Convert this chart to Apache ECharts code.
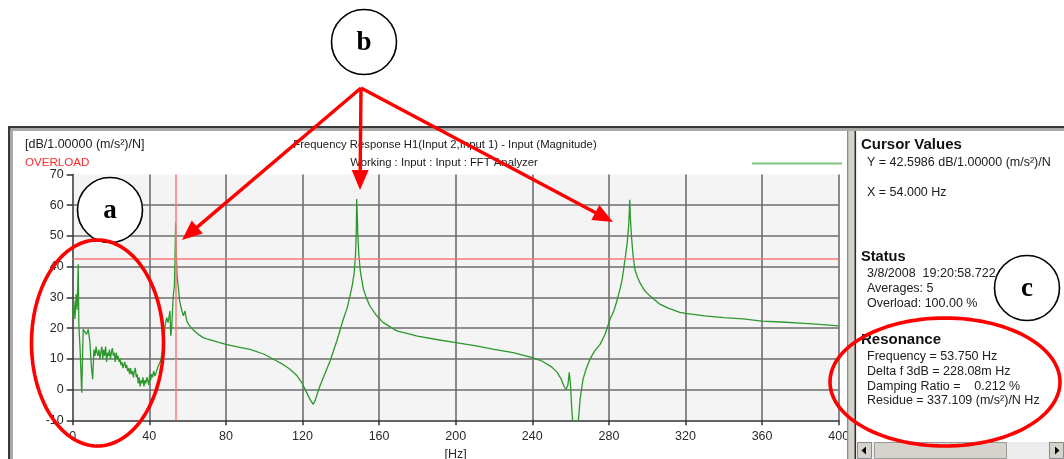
<!DOCTYPE html>
<html>
<head>
<meta charset="utf-8">
<script src="https://cdn.jsdelivr.net/npm/echarts@6/dist/echarts.min.js"></script>
<style>
html,body{margin:0;padding:0;background:#fff;}
#c{width:1064px;height:459px;}
</style>
</head>
<body>
<div id="c"></div>
<script>
// ---- data: [frequency Hz, magnitude dB] ----
const lowBand = [
  [0,24],[0.6,29],[1.2,23],[1.8,31],[2.3,26],[2.9,40.8],[3.2,21],[3.8,14],[4.7,-1],[5.5,19.6],[6.4,20.2],[7.2,18],
  [8.1,19.6],[9.0,15.4],[9.7,8],[10.4,3.4],[11.1,13],[11.7,11],[12.2,14],[12.7,12],[13.2,11],[13.7,13],[14.2,10],
  [14.7,12],[15.2,14],[15.7,10],[16.2,13],[16.7,11],[17.2,14],[17.7,9],[18.2,12],[18.7,11],[19.2,13],[19.7,10],
  [20.2,12],[20.7,13.5],[21.2,11],[21.7,12],[22.2,9],[22.7,12],[23.2,10],[23.7,11],[24.2,9],[24.7,10],[25.2,8],
  [25.7,9],[26.2,7],[26.7,8],[27.2,9],[27.7,7],[28.2,8],[28.7,6],[29.2,7],[29.7,5],[30.2,7],[30.7,5],[31.2,6],
  [31.7,4],[32.2,6],[32.7,7],[33.2,4],[33.7,5],[34.2,2],[34.7,4],[35.2,1],[35.7,3],[36.2,2],[36.7,4],[37.2,1],
  [37.7,3],[38.2,2],[38.7,4],[39.2,3],[39.7,1.5],[40.2,5],[40.7,3],[41.2,5],[41.7,4],[42.3,6],[43.0,4.4],
  [43.8,6],[44.6,7.5]
];
const mode1 = [
  [45.6,8.8],[46.5,11],[47.3,14.2],[48.2,20.7],[49.1,23.4],[49.8,21.8],[50.8,25.6],[51.2,17.5],[51.7,20.2],
  [52.5,30.5],[53.1,33.7],[53.5,45],[53.75,54.4],[54.0,46],[54.5,37],[55.2,33],[55.8,29],[56.4,27.2],[57.1,25.5],
  [57.8,24],[58.6,25.6],[59.5,22.5],[60.4,21.3],[62,20],[64,18.8],[66,17.8],[68.2,16.9],[70,16.5],[75,15.6],
  [80,14.7],[86,13.9],[92.6,13.1],[100,11.5],[106.5,9.3],[110,8.1],[113.5,6.6],[117,4.6],[119.6,2.3],[122.2,-1],
  [124,-3.3],[125.6,-4.8]
];
const mode2 = [
  [126.6,-3.6],[127.4,-2],[129,1],[130.9,3.9],[134.4,9.3],[137.9,15.8],[141.3,22.9],[143.3,26.5],[144.8,30.5],
  [146,34],[147,38],[147.7,44],[148.1,52],[148.3,62],[148.6,57],[148.9,50],[149.4,44],[150.2,38.5],[151.8,32.7],
  [153.5,29.6],[155.2,27.2],[158.5,24.2],[162.2,21.8],[169.2,19.1],[175,18.2],[180,17.4],[190,16.3],[200,15.3],
  [210,14.3],[220,13.1],[230,12],[240,10.4],[245,9.3],[250,7.4],[253,5.6],[255,3.5],[256.6,1],[257.6,0]
];
const mode3 = [
  [258.6,1.5],[259.3,5.6],[259.9,2],[260.6,-6],[261.4,-13],[262.5,-17],[263.6,-13],[264.2,-9],[265,-3],
  [266.5,3.4],[268,6.5],[270.1,9.9],[272.5,12.5],[275.4,14.7],[278,18],[280.6,22.9],[282.5,25.5],[284,28.5],
  [285.8,32.7],[287,36],[288.4,42.4],[289.6,48],[290.4,54],[290.9,61.8],[291.2,56],[291.9,49],[292.7,43],
  [293.6,39],[295,36.5],[296.2,34.8],[298.5,32.3],[301.4,30.5],[306.6,27.8],[311,26.5],[317,25.1],[320,24.8],
  [330,24],[340,23.4],[350,23],[360,22.3],[370,22],[380,21.6],[390,21.2],[400,20.7]
];
const xTickLabels = ['0','40','80','120','160','200','240','280','320','360','400'];
const cursorX = 54;
const cursorY = 42.5986;
const headerLeft = ['[dB/1.00000 (m/s\u00b2)/N]', 'OVERLOAD'];
const titleLines = ['Frequency Response H1(Input 2,Input 1) - Input (Magnitude)', 'Working : Input : Input : FFT Analyzer'];
const panelHeads = ['Cursor Values', 'Status', 'Resonance'];
const cursorLines = ['Y = 42.5986 dB/1.00000 (m/s\u00b2)/N', 'X = 54.000 Hz'];
const statusLines = ['3/8/2008  19:20:58.722', 'Averages: 5', 'Overload: 100.00 %'];
const resonanceLines = ['Frequency = 53.750 Hz', 'Delta f 3dB = 228.08m Hz', 'Damping Ratio =    0.212 %', 'Residue = 337.109 (m/s\u00b2)/N Hz'];

const seriesData = lowBand.concat(mode1, mode2, mode3);

const FONT = '"Liberation Sans", Arial, sans-serif';
const txt = (s, x, y, opt) => Object.assign({
  type: 'text', z: 50, silent: true,
  style: Object.assign({
    text: s, x: x, y: y, font: '12.5px ' + FONT, fill: '#202020',
    textAlign: 'left', textVerticalAlign: 'middle', align: 'left', verticalAlign: 'middle'
  }, opt || {})
});

function arrow(x0, y0, x1, y1) {
  const dx = x1 - x0, dy = y1 - y0, len = Math.sqrt(dx*dx + dy*dy);
  const ux = dx/len, uy = dy/len, L = 20, W = 8.5;
  const bx = x1 - ux*L, by = y1 - uy*L;
  return [
    {type:'line', z:80, silent:true, shape:{x1:x0, y1:y0, x2:bx + ux*2, y2:by + uy*2}, style:{stroke:'#ff0000', lineWidth:3.4}},
    {type:'polygon', z:80, silent:true, shape:{points:[[x1,y1],[bx - uy*W, by + ux*W],[bx + uy*W, by - ux*W]]}, style:{fill:'#ff0000'}}
  ];
}
function ellipse(cx, cy, rx, ry) {
  const pts = [];
  for (let i = 0; i < 120; i++) { const a = i/120*Math.PI*2; pts.push([cx + rx*Math.cos(a), cy + ry*Math.sin(a)]); }
  return {type:'polygon', z:90, silent:true, shape:{points:pts}, style:{fill:'none', stroke:'#ff0000', lineWidth:3.6}};
}
function badge(cx, cy, letter) {
  return [
    {type:'circle', z:85, silent:true, shape:{cx:cx, cy:cy, r:32.5}, style:{fill:'#ffffff', stroke:'#000000', lineWidth:1.6}},
    {type:'text', z:86, silent:true, style:{text:letter, x:cx, y:cy+1, font:'bold 27px "Liberation Serif", "DejaVu Serif", serif', fill:'#000', textAlign:'center', textVerticalAlign:'middle', align:'center', verticalAlign:'middle'}}
  ];
}

const graphics = [
  // window frame
  {type:'rect', z:40, silent:true, shape:{x:8, y:126, width:1056, height:2.5}, style:{fill:'#3a3a3a'}},
  {type:'rect', z:40, silent:true, shape:{x:10.5, y:128.5, width:1054, height:2.5}, style:{fill:'#ababab'}},
  {type:'rect', z:40, silent:true, shape:{x:8, y:126, width:2.5, height:333}, style:{fill:'#3a3a3a'}},
  {type:'rect', z:40, silent:true, shape:{x:10.5, y:128.5, width:2.5, height:331}, style:{fill:'#ababab'}},
  // separator to right panel
  {type:'rect', z:40, silent:true, shape:{x:847, y:131, width:9, height:328}, style:{fill:'#d6d3cc'}},
  {type:'rect', z:41, silent:true, shape:{x:847, y:131, width:1.3, height:328}, style:{fill:'#8a8a8a'}},
  {type:'rect', z:41, silent:true, shape:{x:854.5, y:131, width:1.6, height:328}, style:{fill:'#303030'}},
  // scrollbar
  {type:'rect', z:40, silent:true, shape:{x:857, y:442, width:207, height:17}, style:{fill:'#ececec'}},
  {type:'rect', z:41, silent:true, shape:{x:857.5, y:442.5, width:14, height:16}, style:{fill:'#d6d3cc', stroke:'#8a8a8a', lineWidth:1}},
  {type:'polygon', z:42, silent:true, shape:{points:[[861.5,450.5],[866,446.5],[866,454.5]]}, style:{fill:'#000'}},
  {type:'rect', z:41, silent:true, shape:{x:874.5, y:442.5, width:132, height:16}, style:{fill:'#d6d3cc', stroke:'#9a9a9a', lineWidth:1}},
  {type:'rect', z:41, silent:true, shape:{x:1049.5, y:442.5, width:14, height:16}, style:{fill:'#d6d3cc', stroke:'#8a8a8a', lineWidth:1}},
  {type:'polygon', z:42, silent:true, shape:{points:[[1059.5,450.5],[1055,446.5],[1055,454.5]]}, style:{fill:'#000'}},
  // header texts
  txt(headerLeft[0], 25, 144.5),
  txt(headerLeft[1], 25, 163, {fill:'#ff2a2a', font:'11.6px ' + FONT}),
  txt(titleLines[0], 445, 145, {textAlign:'center', align:'center', font:'11.3px ' + FONT}),
  txt(titleLines[1], 444, 163, {textAlign:'center', align:'center', font:'11.3px ' + FONT}),
  {type:'line', z:50, silent:true, shape:{x1:752, y1:163.5, x2:842, y2:163.5}, style:{stroke:'#7cc47c', lineWidth:2}},
  // right panel
  txt(panelHeads[0], 861, 145, {font:'bold 15px ' + FONT, fill:'#111'}),
  txt(cursorLines[0], 867, 163),
  txt(cursorLines[1], 867, 193),
  txt(panelHeads[1], 861, 257, {font:'bold 14.6px ' + FONT, fill:'#111'}),
  txt(statusLines[0], 867, 274),
  txt(statusLines[1], 867, 289),
  txt(statusLines[2], 867, 303.5),
  txt(panelHeads[2], 861, 339.5, {font:'bold 15px ' + FONT, fill:'#111'}),
  txt(resonanceLines[0], 867, 356.5),
  txt(resonanceLines[1], 867, 371.5),
  txt(resonanceLines[2], 867, 386.5),
  txt(resonanceLines[3], 867, 401)
]
.concat(arrow(361, 88, 182, 240))
.concat(arrow(361, 88, 360, 190))
.concat(arrow(361, 88, 613, 222))
.concat(badge(364, 42, 'b'))
.concat(badge(110, 210, 'a'))
.concat(badge(1027, 288, 'c'))
.concat([ellipse(97.5, 343, 66, 103), ellipse(945, 382, 115, 64)]);

const axisText = {color:'#2a2a2a', fontSize:12.5, fontFamily:FONT};
const chart = echarts.init(document.getElementById('c'), null, {renderer:'canvas'});
chart.setOption({
  animation: false,
  backgroundColor: '#ffffff',
  grid: {left:72.7, top:174.5, width:766, height:245.8, show:true, backgroundColor:'#f4f4f4', borderWidth:0, containLabel:false, outerBoundsMode:'none'},
  xAxis: {
    type:'value', min:0, max:400, interval:40,
    axisLine:{show:true, onZero:false, lineStyle:{color:'#333', width:1.5}},
    axisTick:{show:true, length:5, lineStyle:{color:'#333', width:1.5}},
    axisLabel:Object.assign({margin:10, formatter:(v) => xTickLabels[Math.round(v/40)]}, axisText),
    splitLine:{show:true, showMinLine:false, lineStyle:{color:'#6e6e6e', width:1.6}},
    name:'[Hz]', nameLocation:'middle', nameGap:25, nameTextStyle:axisText
  },
  yAxis: {
    type:'value', min:-10, max:70, interval:10,
    axisLine:{show:true, onZero:false, lineStyle:{color:'#333', width:1.5}},
    axisTick:{show:true, length:6, lineStyle:{color:'#333', width:1.5}},
    axisLabel:Object.assign({margin:9}, axisText),
    splitLine:{show:true, showMinLine:false, showMaxLine:false, lineStyle:{color:'#6e6e6e', width:1.6}}
  },
  series: [{
    type:'line', data:seriesData, symbol:'none', showSymbol:false, clip:true, z:3,
    lineStyle:{color:'#2c982c', width:1.3},
    markLine:{
      silent:true, symbol:'none', label:{show:false}, animation:false,
      lineStyle:{color:'#ff7878', width:1.5, type:'solid'},
      data:[{xAxis:cursorX}, {yAxis:cursorY}]
    }
  }],
  graphic: {elements: graphics}
});
</script>
</body>
</html>
